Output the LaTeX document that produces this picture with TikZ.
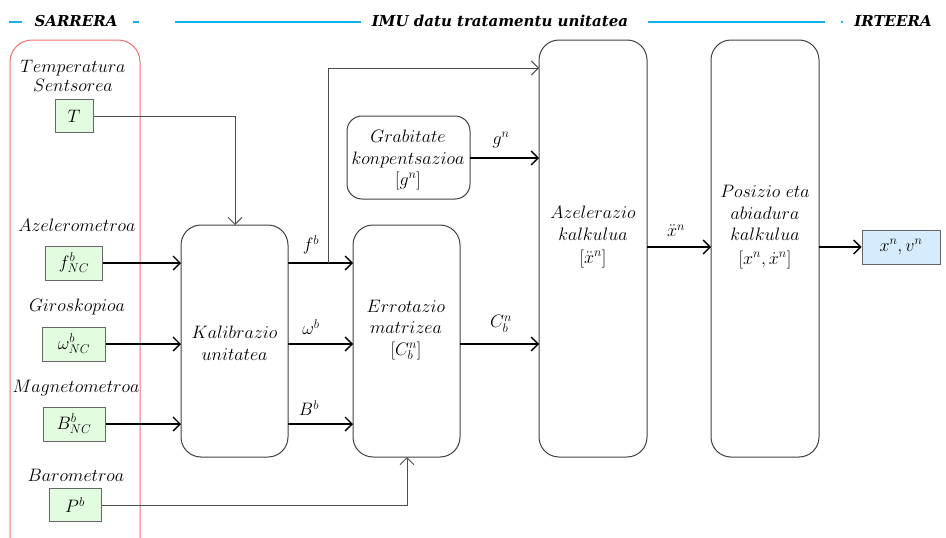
\RequirePackage{fix-cm}
\documentclass[tikz,border=0pt]{standalone}
\usepackage{fontspec}
\newfontfamily\headfont{DejaVu Serif}
\usetikzlibrary{arrows.meta}

\definecolor{inputgreen}{HTML}{E2FCE0}
\definecolor{outputblue}{HTML}{D6ECFC}
\definecolor{headblue}{HTML}{13B0EA}
\definecolor{framered}{HTML}{F07070}

\tikzset{
  lbl/.style={inner sep=0pt, font=\fontsize{18}{21.5}\selectfont, align=center},
  hdr/.style={inner sep=0pt, font=\headfont\bfseries\itshape\fontsize{15}{18}\selectfont},
  hline/.style={draw=headblue, line width=1.4pt},
  sensor/.style={draw=black!60, line width=1pt, fill=inputgreen, inner sep=0pt, font=\fontsize{18}{21}\selectfont},
  stage/.style={draw=black!75, line width=1pt, rounded corners=20pt},
  flow/.style={draw=black, line width=1.3pt, -{Straight Barb[length=7pt,width=14pt,line width=1.3pt]}},
  tap/.style={draw=black!70, line width=0.9pt, -{Straight Barb[length=7pt,width=14pt,line width=0.9pt]}},
}

\begin{document}
\begin{tikzpicture}[x=1pt, y=-1pt]
\useasboundingbox (0,0) rectangle (946,538);

% header band
\draw[hline] (9,22) -- (22,22);
\node[hdr] (hin) at (76,21) {SARRERA};
\draw[hline] (133,22) -- (139,22);
\draw[hline] (175,22) -- (361,22);
\node[hdr] (hmid) at (500,21) {IMU datu tratamentu unitatea};
\draw[hline] (648,22) -- (825,22);
\draw[hline] (841,22) -- (843,22);
\node[hdr] (hout) at (893,21) {IRTEERA};

% sensor input frame
\draw[draw=framered, line width=1pt, rounded corners=22pt] (10,540) -- (10,40) -- (140,40) -- (140,540);

% sensors
\node[lbl] (tlab) at (73,76) {$Temperatura$\\[-2pt]$Sentsorea$};
\node[sensor, minimum width=38pt, minimum height=33pt] (T) at (74,116) {$T$};
\node[lbl] (alab) at (77,225) {$Azelerometroa$};
\node[sensor, minimum width=57pt, minimum height=34pt] (F) at (74,263) {$f^{b}_{NC}$};
\node[lbl] (glab) at (77,307) {$Giroskopioa$};
\node[sensor, minimum width=63pt, minimum height=34pt] (W) at (74,344) {$\omega^{b}_{NC}$};
\node[lbl] (mlab) at (76,388) {$Magnetometroa$};
\node[sensor, minimum width=62pt, minimum height=34pt] (B) at (74,424) {$B^{b}_{NC}$};
\node[lbl] (blab) at (76,475) {$Barometroa$};
\node[sensor, minimum width=52pt, minimum height=33pt] (P) at (75,505) {$P^{b}$};

% processing stages
\draw[stage] (181,225) rectangle (288,457);
\coordinate (calN) at (235,225);
\node[lbl] (cal) at (234.5,343) {$Kalibrazio$\\$unitatea$};

\draw[stage, rounded corners=15pt] (347,116) rectangle (470,199);
\node[lbl] (grav) at (408,160) {$Grabitate$\\$konpentsazioa$\\$[g^{n}]$};

\draw[stage] (353,225) rectangle (460,457);
\coordinate (rotS) at (407,457);
\node[lbl] (rot) at (406,330) {$Errotazio$\\$matrizea$\\$[C^{n}_{b}]$};

\draw[stage] (539,40) rectangle (647,457);
\node[lbl] (acc) at (593,237) {$Azelerazio$\\$kalkulua$\\[2pt]$[\ddot{x}^{n}]$};

\draw[stage] (711,40) rectangle (819,457);
\node[lbl] (pos) at (765,227) {$Posizio\ eta$\\$abiadura$\\$kalkulua$\\[2pt]$[x^{n},\dot{x}^{n}]$};

\node[draw=black!60, line width=1pt, fill=outputblue, minimum width=78pt, minimum height=34pt, inner sep=0pt, font=\fontsize{18}{21}\selectfont] (out) at (901,247) {$x^{n},v^{n}$};

% sensor links
\draw[tap] (T.east) -| (calN);
\draw[flow] (F.east) -- (181,263);
\draw[flow] (W.east) -- (181,344);
\draw[flow] (B.east) -- (181,424);
\draw[tap] (P.east) -| (rotS);

% calibration outputs
\draw[flow] (288,263) -- (353,263);
\node[lbl] (fb) at (311,245) {$f^{b}$};
\draw[flow] (288,344) -- (353,344);
\node[lbl] (wb) at (311,327) {$\omega^{b}$};
\draw[flow] (288,424) -- (353,424);
\node[lbl] (bb) at (309,408) {$B^{b}$};
\draw[tap] (328,263) -- (328,68) -- (539,68);

% gravity and rotation into acceleration
\draw[flow] (470,158) -- (539,158);
\node[lbl] (gn) at (501,140) {$g^{n}$};
\draw[flow] (460,344) -- (539,344);
\node[lbl] (cbn) at (501,324) {$C^{n}_{b}$};

% acceleration to position, then output
\draw[flow] (647,247) -- (711,247);
\node[lbl] (xdd) at (676,231) {$\ddot{x}^{n}$};
\draw[flow] (819,247) -- (out.west);
\end{tikzpicture}
\end{document}
